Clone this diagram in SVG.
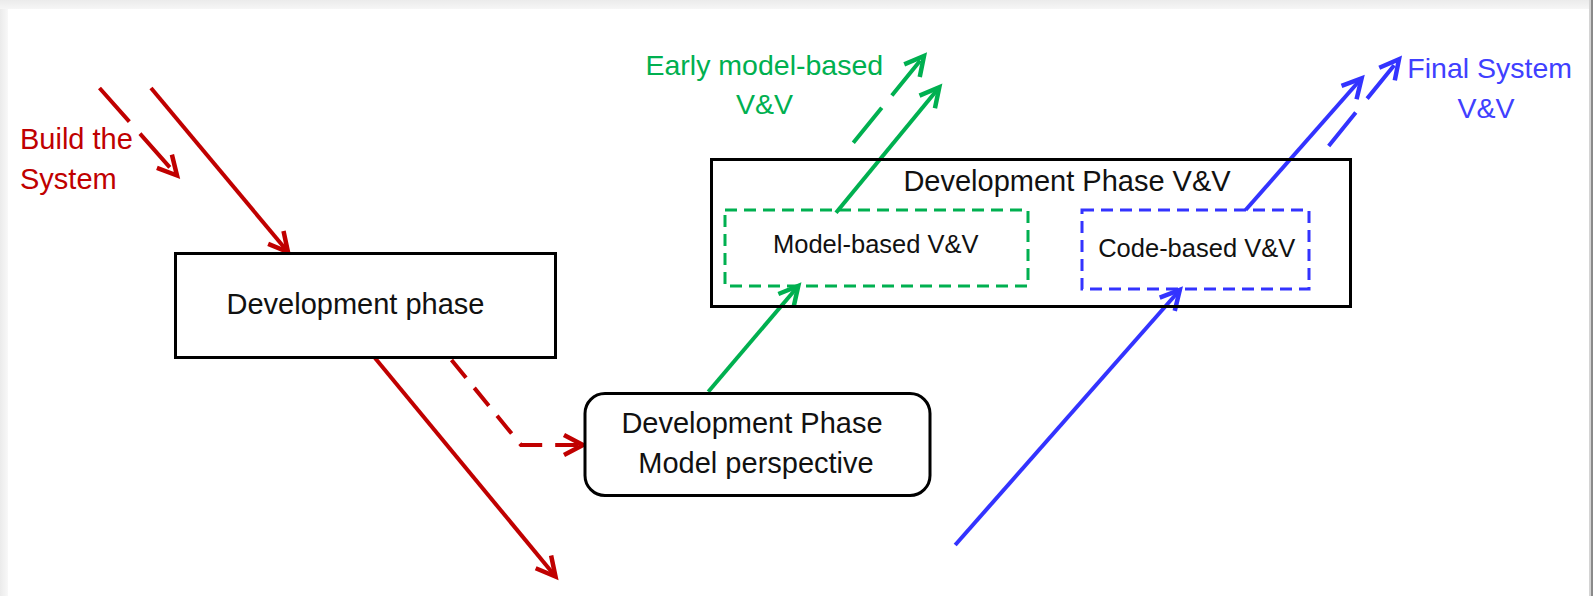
<svg xmlns="http://www.w3.org/2000/svg" width="1593" height="596" viewBox="0 0 1593 596">
  <style>
    .box { fill: #ffffff; stroke: #000000; stroke-width: 3; }
    .dbox { fill: none; stroke-width: 3; stroke-dasharray: 12 7; }
    .lbl { font-family: "Liberation Sans", Arial, sans-serif; fill: #111111; }
    .big { font-size: 29px; }
    .small { font-size: 25.5px; }
    .red { stroke: #c00000; }
    .green { stroke: #00b050; }
    .blue { stroke: #3333ff; }
    .conn { fill: none; stroke-width: 4; }
  </style>
  <defs>
    <linearGradient id="edgeL" x1="0" y1="0" x2="1" y2="0">
      <stop offset="0" stop-color="#ebebeb"/>
      <stop offset="1" stop-color="#f8f8f8"/>
    </linearGradient>
    <linearGradient id="edgeT" x1="0" y1="0" x2="0" y2="1">
      <stop offset="0" stop-color="#ebebeb"/>
      <stop offset="1" stop-color="#f6f6f6"/>
    </linearGradient>
    <marker id="arrRed" markerUnits="userSpaceOnUse" markerWidth="40" markerHeight="40" refX="0" refY="0" viewBox="-30 -20 40 40" orient="auto" overflow="visible">
      <path d="M-19,-10 L0,0 L-19,10" fill="none" stroke="#c00000" stroke-width="4.5"/>
    </marker>
    <marker id="arrGreen" markerUnits="userSpaceOnUse" markerWidth="40" markerHeight="40" refX="0" refY="0" viewBox="-30 -20 40 40" orient="auto" overflow="visible">
      <path d="M-19,-10 L0,0 L-19,10" fill="none" stroke="#00b050" stroke-width="4.5"/>
    </marker>
    <marker id="arrBlue" markerUnits="userSpaceOnUse" markerWidth="40" markerHeight="40" refX="0" refY="0" viewBox="-30 -20 40 40" orient="auto" overflow="visible">
      <path d="M-19,-10 L0,0 L-19,10" fill="none" stroke="#3333ff" stroke-width="4.5"/>
    </marker>
  </defs>

  <!-- page frame -->
  <rect x="0" y="0" width="1593" height="596" fill="#f3f3f3"/>
  <rect x="0" y="0" width="1593" height="9" fill="url(#edgeT)"/>
  <rect x="0" y="9" width="8" height="587" fill="url(#edgeL)"/>
  <rect x="8" y="9" width="1581" height="587" fill="#ffffff"/>
  <rect x="1589" y="0" width="2" height="596" fill="#d4d4d4"/>
  <rect x="1591" y="0" width="2" height="596" fill="#8a8a8a"/>

  <!-- connectors -->
  <g id="connectors">
    <line class="conn red" x1="151" y1="88" x2="288" y2="252" marker-end="url(#arrRed)"/>
    <line class="conn red" x1="99.5" y1="88" x2="177" y2="175.5" stroke-dasharray="45 16" marker-end="url(#arrRed)"/>
    <line class="conn red" x1="375" y1="358" x2="555.5" y2="576.5" marker-end="url(#arrRed)"/>
    <path class="conn red" d="M451.5,360 L521,445 L583,445" stroke-dasharray="23 13" marker-end="url(#arrRed)"/>

    <line class="conn green" x1="708.3" y1="391.7" x2="798.3" y2="286" marker-end="url(#arrGreen)"/>
    <line class="conn green" x1="836" y1="212.7" x2="939.3" y2="87.3" marker-end="url(#arrGreen)"/>
    <line class="conn green" x1="853.3" y1="142.7" x2="924" y2="56" stroke-dasharray="45 16" marker-end="url(#arrGreen)"/>

    <line class="conn blue" x1="955.2" y1="545" x2="1179.8" y2="290" marker-end="url(#arrBlue)"/>
    <line class="conn blue" x1="1245.6" y1="210" x2="1361.6" y2="78.3" marker-end="url(#arrBlue)"/>
    <line class="conn blue" x1="1328.7" y1="146" x2="1399" y2="59.3" stroke-dasharray="43 18" marker-end="url(#arrBlue)"/>
  </g>

  <!-- free labels -->
  <g id="label-build">
    <text class="lbl big" x="20" y="149" style="fill:#c00000">Build the</text>
    <text class="lbl big" x="20" y="189" style="fill:#c00000">System</text>
  </g>
  <g id="label-early">
    <text class="lbl" font-size="28.5" x="764.3" y="75" text-anchor="middle" style="fill:#00b050">Early model-based</text>
    <text class="lbl" font-size="28.5" x="764.5" y="114" text-anchor="middle" style="fill:#00b050">V&amp;V</text>
  </g>
  <g id="label-final">
    <text class="lbl" font-size="28.5" x="1489.7" y="78.3" text-anchor="middle" style="fill:#4040ff">Final System</text>
    <text class="lbl" font-size="28.5" x="1486" y="118" text-anchor="middle" style="fill:#4040ff">V&amp;V</text>
  </g>

  <!-- nodes -->
  <g id="dev-phase">
    <rect class="box" x="175.5" y="253.5" width="380" height="104"/>
    <text class="lbl big" x="355.5" y="314" text-anchor="middle">Development phase</text>
  </g>

  <g id="dev-model">
    <rect class="box" x="585" y="393.5" width="345" height="102" rx="20" ry="20"/>
    <text class="lbl big" x="752" y="432.7" text-anchor="middle">Development Phase</text>
    <text class="lbl big" x="756" y="472.7" text-anchor="middle">Model perspective</text>
  </g>

  <g id="dev-vv">
    <rect class="box" x="711.5" y="159.5" width="639" height="147" style="fill:none"/>
    <text class="lbl big" x="1067" y="191" text-anchor="middle">Development Phase V&amp;V</text>
  </g>

  <g id="model-vv">
    <rect class="dbox green" x="725" y="210" width="303" height="76"/>
    <text class="lbl small" x="875.8" y="252.7" text-anchor="middle">Model-based V&amp;V</text>
  </g>

  <g id="code-vv">
    <rect class="dbox blue" x="1082" y="210" width="227" height="79"/>
    <text class="lbl small" x="1196.7" y="256.7" text-anchor="middle">Code-based V&amp;V</text>
  </g>
</svg>
